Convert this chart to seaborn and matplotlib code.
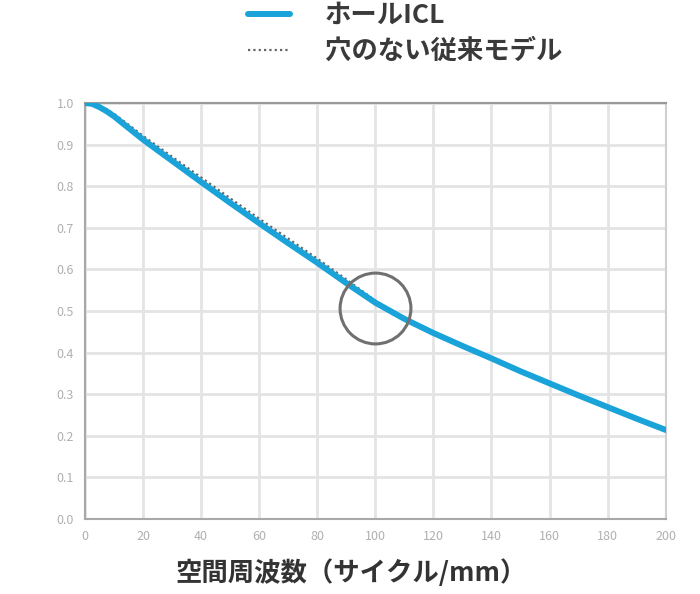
import pandas as pd
import seaborn as sns
import matplotlib.pyplot as plt

# spatial frequency (cycles/mm)
freq = [0, 2.5, 5, 7.5, 10, 15, 20, 30, 40, 50, 60, 70, 80, 90, 100, 110, 120, 130, 140, 150, 160, 170, 180, 190, 200]
# MTF, hole ICL
mtf_hole = [1.0, 0.998, 0.99, 0.98, 0.968, 0.94, 0.912, 0.861, 0.81, 0.76, 0.711, 0.663, 0.616, 0.567, 0.52,
            0.481, 0.447, 0.416, 0.386, 0.355, 0.326, 0.297, 0.269, 0.241, 0.214]
# MTF, conventional model without hole
mtf_conv = [1.0, 0.999, 0.993, 0.985, 0.974, 0.948, 0.921, 0.871, 0.821, 0.771, 0.722, 0.674, 0.626, 0.576, 0.525,
            0.483, 0.447, 0.416, 0.386, 0.355, 0.326, 0.297, 0.269, 0.241, 0.214]

labels = ["ホールICL", "穴のない従来モデル"]
x_ticks = [0, 20, 40, 60, 80, 100, 120, 140, 160, 180, 200]
y_ticks = [0.0, 0.1, 0.2, 0.3, 0.4, 0.5, 0.6, 0.7, 0.8, 0.9, 1.0]

df = pd.DataFrame({"freq": freq, "hole": mtf_hole, "conv": mtf_conv})

sns.set_style("white")
plt.rcParams["font.family"] = ["Noto Sans CJK JP", "DejaVu Sans"]

fig = plt.figure(figsize=(7, 5.94), dpi=100)
ax = fig.add_axes([0.1214, 0.1263, 0.8296, 0.7003])

sns.lineplot(data=df, x="freq", y="conv", ax=ax, color="#666666", linewidth=1.6,
             linestyle=(0, (1, 1.4)), label=labels[1], zorder=2)
sns.lineplot(data=df, x="freq", y="hole", ax=ax, color="#1aa3d9", linewidth=4.3, label=labels[0],
             zorder=3, solid_capstyle="round", solid_joinstyle="round")

# highlight circle at 100 cycles/mm
ax.plot([100], [0.507], marker="o", markersize=51, markerfacecolor="none",
        markeredgecolor="#707070", markeredgewidth=2.2, zorder=4)

ax.set_xlim(0, 200)
ax.set_ylim(0, 1.0)
ax.set_xticks(x_ticks)
ax.set_yticks(y_ticks)
ax.set_yticklabels([f"{v:.1f}" for v in y_ticks])
ax.grid(True, color="#e4e4e4", linewidth=2)
ax.set_axisbelow(True)
for side, sp in ax.spines.items():
    sp.set_color("#a8a8a8")
    sp.set_linewidth(1.5)
ax.spines["top"].set_color("#999999")
ax.spines["right"].set_color("#cfcfcf")
ax.tick_params(axis="both", colors="#b0b0b0", labelsize=9, length=0, pad=8)

ax.set_xlabel("空間周波数（サイクル/mm）", fontsize=19, color="#333333", fontweight="bold")
ax.xaxis.set_label_coords(0.458, -0.098)
ax.set_ylabel("")

handles, labs = ax.get_legend_handles_labels()
ax.get_legend().remove()
order = [1, 0]
fig.legend([handles[i] for i in order], [labs[i] for i in order], loc="upper left",
           bbox_to_anchor=(248 / 700, 0.997), frameon=False, borderpad=0, borderaxespad=0,
           prop={"size": 19, "weight": "bold"}, labelcolor="#3a3a3a", handlelength=1.6,
           handletextpad=1.3, labelspacing=0.35)

plt.savefig("out.png", dpi=100)
